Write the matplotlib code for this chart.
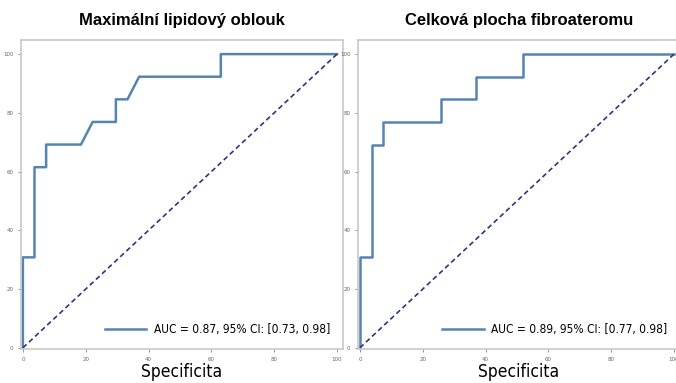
import matplotlib
matplotlib.use("Agg")
import matplotlib.pyplot as plt

# ROC curves, x = 1 - specificity (%), y = sensitivity (%)
left_fpr = [0, 0, 3.7, 3.7, 7.4, 7.4, 18.5, 22.2, 29.6, 29.6, 33.3, 37.0, 63.0, 63.0, 100]
left_tpr = [0, 30.8, 30.8, 61.5, 61.5, 69.2, 69.2, 76.9, 76.9, 84.6, 84.6, 92.3, 92.3, 100, 100]
right_fpr = [0, 0, 3.7, 3.7, 7.4, 7.4, 25.9, 25.9, 37.0, 37.0, 51.9, 51.9, 100]
right_tpr = [0, 30.8, 30.8, 69.2, 69.2, 76.9, 76.9, 84.6, 84.6, 92.3, 92.3, 100, 100]

titles = ["Maximální lipidový oblouk", "Celková plocha fibroateromu"]
labels = ["AUC = 0.87, 95% CI: [0.73, 0.98]", "AUC = 0.89, 95% CI: [0.77, 0.98]"]
ticks = [0, 20, 40, 60, 80, 100]

W, H = 676, 383
fig = plt.figure(figsize=(W / 100, H / 100), dpi=100)

boxes = [(21, 40, 322, 309), (358, 40, 322, 309)]
curves = [(left_fpr, left_tpr), (right_fpr, right_tpr)]

for (x0, y0, w, h), (fpr, tpr), title, lab in zip(boxes, curves, titles, labels):
    ax = fig.add_axes([x0 / W, 1 - (y0 + h) / H, w / W, h / H])
    ax.plot(fpr, tpr, color="#5584b2", lw=1.8, label=lab)
    ax.plot([0, 100], [0, 100], color="#33337f", lw=1.2, ls=(0, (3, 2)))
    ax.set_xlim(-0.6, 101.9)
    ax.set_ylim(-0.4, 104.8)
    ax.set_xticks(ticks)
    ax.set_yticks(ticks)
    ax.tick_params(labelsize=4, colors="#666666", length=2, width=0.5)
    for s in ax.spines.values():
        s.set_color("#c8c8c8")
        s.set_linewidth(1.2)
    ax.set_title(title, fontsize=12, fontweight="bold", family=["Liberation Sans", "DejaVu Sans"], pad=11)
    ax.set_xlabel("Specificita", fontsize=12.5, family="DejaVu Sans", fontstretch="condensed", labelpad=1)
    ax.legend(loc="lower right", frameon=False,
              prop={"family": "DejaVu Sans", "stretch": "condensed", "size": 8.6},
              handlelength=3.5, handletextpad=0.6, borderaxespad=0.7)

fig.savefig("out.png", dpi=100)
